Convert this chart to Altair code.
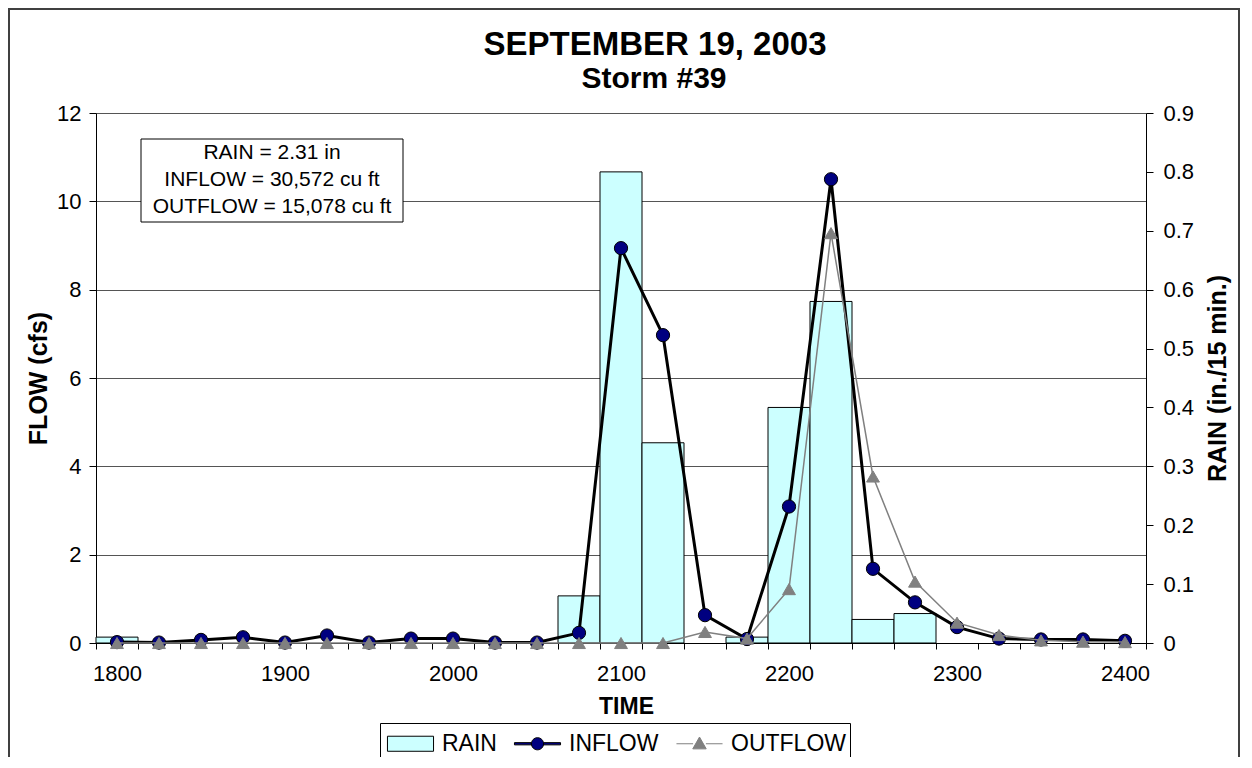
import altair as alt
import pandas as pd

# ---------------- data ----------------
times = [1800, 1825, 1850, 1875, 1900, 1925, 1950, 1975, 2000, 2025, 2050, 2075,
         2100, 2125, 2150, 2175, 2200, 2225, 2250, 2275, 2300, 2325, 2350, 2375, 2400]
rain = [0.01, 0, 0, 0, 0, 0, 0, 0, 0, 0, 0, 0.08,
        0.80, 0.34, 0, 0.01, 0.40, 0.58, 0.04, 0.05, 0, 0, 0, 0, 0]
inflow = [0.02, 0.01, 0.07, 0.13, 0.01, 0.17, 0.01, 0.10, 0.10, 0.01, 0.01, 0.23,
          8.94, 6.97, 0.63, 0.09, 3.09, 10.50, 1.68, 0.92, 0.36, 0.10, 0.08, 0.08, 0.05]
outflow = [0, 0, 0, 0, 0, 0, 0, 0, 0, 0, 0, 0,
           0, 0, 0.25, 0.10, 1.22, 9.28, 3.77, 1.39, 0.46, 0.18, 0.06, 0.03, 0.02]
series_names = ["RAIN", "INFLOW", "OUTFLOW"]
note_lines = ["RAIN = 2.31 in", "INFLOW = 30,572 cu ft", "OUTFLOW = 15,078 cu ft"]
title_text = "SEPTEMBER 19, 2003"
subtitle_text = "Storm #39"
time_labels = [1800, 1900, 2000, 2100, 2200, 2300, 2400]
flow_ticks = [0, 2, 4, 6, 8, 10, 12]
rain_ticks = [0, 0.1, 0.2, 0.3, 0.4, 0.5, 0.6, 0.7, 0.8, 0.9]

df = pd.DataFrame({"time": times, "rain": rain, "inflow": inflow, "outflow": outflow})
legend_df = pd.DataFrame({"series": series_names})
note_df = pd.DataFrame({"note": ["\n".join(note_lines)]})
title_df = pd.DataFrame({"title": [title_text], "subtitle": [subtitle_text]})

# ---------------- styles ----------------
FONT = "Liberation Sans"
RAIN_FILL = "#CCFFFF"
NAVY = "#000080"
GRAY = "#808080"
GRID = "#555555"
half_cat = 12.5
boundaries = [times[0] - half_cat + 25 * i for i in range(len(times) + 1)]

x_scale = alt.Scale(domain=[times[0] - half_cat, times[-1] + half_cat], nice=False, zero=False)
flow_scale = alt.Scale(domain=[0, 12], nice=False)
rain_scale = alt.Scale(domain=[0, 0.9], nice=False)

x_label_axis = alt.Axis(
    orient="bottom", values=time_labels, format="d", ticks=False, tickSize=0,
    labelPadding=30, labelBaseline="middle", labelFlush=False, labelOverlap=False,
    labelFont=FONT, labelFontSize=22, labelColor="black",
    title="TIME", titleFont=FONT, titleFontSize=23, titleFontWeight="bold", titleColor="black",
    titleX=530, titleY=63, titleAlign="center", titleBaseline="middle",
    domain=True, domainColor="black", domainWidth=1, grid=False,
)
x_tick_axis = alt.Axis(
    orient="bottom", values=boundaries, labels=False, ticks=True, tickSize=6,
    tickColor="black", tickWidth=1, domain=False, grid=False, title=None,
)
flow_axis = alt.Axis(
    orient="left", values=flow_ticks, grid=True, gridColor=GRID, gridWidth=1,
    tickSize=7, tickColor="black", domainColor="black", labelPadding=8,
    labelFont=FONT, labelFontSize=22, labelColor="black", labelFlush=False, labelOverlap=False,
    title="FLOW (cfs)", titleFont=FONT, titleFontSize=25, titleFontWeight="bold", titleColor="black",
    titleAngle=-90, titleX=-58, titleY=265, titleAlign="center", titleBaseline="middle",
)
rain_axis = alt.Axis(
    orient="right", values=rain_ticks, format=".1~f", grid=False,
    tickSize=7, tickColor="black", domainColor="black", labelPadding=10,
    labelFont=FONT, labelFontSize=22, labelColor="black", labelFlush=False, labelOverlap=False,
    title="RAIN (in./15 min.)", titleFont=FONT, titleFontSize=25, titleFontWeight="bold",
    titleColor="black", titleAngle=-90, titleX=71, titleY=265, titleAlign="center",
    titleBaseline="middle",
)

# ---------------- marks ----------------
bars = (
    alt.Chart(df)
    .transform_filter("datum.rain > 0")
    .transform_calculate(x0=f"datum.time - {half_cat}", x1=f"datum.time + {half_cat}")
    .mark_rect(fill=RAIN_FILL, stroke="black", strokeWidth=1)
    .encode(
        x=alt.X("x0:Q", scale=x_scale, axis=x_label_axis),
        x2="x1:Q",
        y=alt.Y("rain:Q", scale=rain_scale, axis=rain_axis),
        y2=alt.datum(0),
    )
)

base = alt.Chart(df).encode(x=alt.X("time:Q", scale=x_scale, axis=x_tick_axis))
inflow_line = base.mark_line(color="black", strokeWidth=3).encode(
    y=alt.Y("inflow:Q", scale=flow_scale, axis=flow_axis))
inflow_pts = base.mark_point(shape="circle", filled=True, fill=NAVY, stroke="black",
                             strokeWidth=1, size=175, opacity=1).encode(
    y=alt.Y("inflow:Q", scale=flow_scale, axis=flow_axis))
outflow_line = base.mark_line(color=GRAY, strokeWidth=1.5).encode(
    y=alt.Y("outflow:Q", scale=flow_scale, axis=flow_axis))
outflow_pts = base.mark_point(shape="triangle-up", filled=True, fill=GRAY, stroke=GRAY,
                              strokeWidth=1, size=165, opacity=1).encode(
    y=alt.Y("outflow:Q", scale=flow_scale, axis=flow_axis))
flow = alt.layer(inflow_line, inflow_pts, outflow_line, outflow_pts)

# legend (custom symbols drawn by Vega's legend from the scales)
sym_paths = [
    "M-1.44,-0.47H1.44V0.47H-1.44Z",
    "M-1.44,-0.07H-0.38V0.07H-1.44ZM0.38,-0.07H1.44V0.07H0.38Z"
    "M0.38,0A0.38,0.38,0,1,1,-0.38,0A0.38,0.38,0,1,1,0.38,0Z",
    "M-1.44,0H-0.4M0.4,0H1.44M0,-0.42L0.42,0.32L-0.42,0.32Z",
]
leg = alt.Legend(
    title=None, orient="none", legendX=284, legendY=610, direction="horizontal",
    strokeColor="black", fillColor="white", padding=4,
    labelFont=FONT, labelFontSize=23, labelColor="black", labelLimit=400,
    labelOffset=15, columnPadding=14, symbolSize=1024, symbolOffset=10,
    symbolStrokeWidth=1, symbolOpacity=1,
)
legend_layer = (
    alt.Chart(legend_df)
    .transform_filter("false")
    .mark_point(filled=True, opacity=1, strokeWidth=1)
    .encode(
        shape=alt.Shape("series:N", scale=alt.Scale(domain=series_names, range=sym_paths), legend=leg),
        fill=alt.Fill("series:N", scale=alt.Scale(domain=series_names, range=[RAIN_FILL, NAVY, GRAY]), legend=leg),
        stroke=alt.Stroke("series:N", scale=alt.Scale(domain=series_names, range=["black", "black", GRAY]), legend=leg),
    )
)

# annotation box
note_box = alt.Chart(note_df).mark_rect(fill="white", stroke="black", strokeWidth=1).encode(
    x=alt.value(45), x2=alt.value(307), y=alt.value(26), y2=alt.value(109))
note_text = alt.Chart(note_df).mark_text(
    font=FONT, fontSize=21, color="black", lineBreak="\n", lineHeight=27,
    align="center", baseline="middle").encode(
    x=alt.value(176), y=alt.value(40), text="note:N")

# titles
title_mark = alt.Chart(title_df).mark_text(
    font=FONT, fontSize=33, fontWeight="bold", color="black", align="center", baseline="middle"
).encode(x=alt.value(559), y=alt.value(-68), text="title:N")
subtitle_mark = alt.Chart(title_df).mark_text(
    font=FONT, fontSize=30, fontWeight="bold", color="black", align="center", baseline="middle"
).encode(x=alt.value(558), y=alt.value(-34), text="subtitle:N")

# outer chart frame
frame = alt.Chart(note_df).mark_rect(fill=None, stroke="#404040", strokeWidth=2).encode(
    x=alt.value(-87), x2=alt.value(1143), y=alt.value(-104), y2=alt.value(700))

chart = (
    alt.layer(frame, bars, flow, note_box, note_text, title_mark, subtitle_mark, legend_layer)
    .resolve_scale(y="independent")
    .resolve_axis(x="independent")
    .properties(
        width=1050, height=530,
        autosize=alt.AutoSizeParams(type="none"),
        padding={"left": 88, "top": 105, "right": 94, "bottom": 114},
    )
    .configure_view(stroke=None)
    .configure(background="white")
)

chart.save("out.html", embed_options={"renderer": "svg", "actions": False})
